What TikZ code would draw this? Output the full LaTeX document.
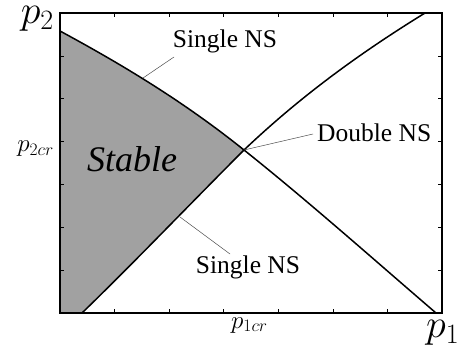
\RequirePackage{fix-cm}
\documentclass[tikz,border=0pt]{standalone}
\usepackage{fontspec}
\setmainfont{Liberation Serif}
\begin{document}
\begin{tikzpicture}[x=1pt,y=-1pt,
  curve/.style={line width=1.5pt, black},
  frame/.style={line width=1.3pt, black},
  tickmark/.style={line width=0.6pt, black},
  leader/.style={line width=0.5pt, black!70},
  lab/.style={inner sep=0pt, font=\fontsize{25.5}{25.5}\selectfont},
  axlab/.style={inner sep=0pt, font=\fontsize{40}{40}\selectfont},
  crlab/.style={inner sep=0pt, font=\fontsize{25}{25}\selectfont}]
\useasboundingbox (0,0) rectangle (462,352);
% key points
\coordinate (A0) at (60,31);
\coordinate (X) at (244,150);
\coordinate (A1) at (436,313);
\coordinate (B0) at (82,313);
\coordinate (B1) at (425,13);
\coordinate (BL) at (60,313);
% stable region
\fill[black!37] (A0) .. controls (121,64) and (183,101) .. (X)
  .. controls (190,204) and (136,260.6) .. (B0) -- (BL) -- cycle;
% curves
\draw[curve] (A0) .. controls (121,64) and (183,101) .. (X)
  .. controls (308,201) and (372,258) .. (A1);
\draw[curve] (B0) .. controls (136,260.6) and (190,204) .. (X)
  .. controls (304,93) and (365,50) .. (B1);
% frame and ticks
\draw[frame] (60,13) rectangle (442,313);
\foreach \k in {1,...,6}{
  \draw[tickmark] ({60+54.571*\k},313) -- ++(0,-4);
  \draw[tickmark] ({60+54.571*\k},13) -- ++(0,4);
  \draw[tickmark] (60,{313-42.857*\k}) -- ++(4,0);
  \draw[tickmark] (442,{313-42.857*\k}) -- ++(-4,0);
}
% labels
\node[lab, anchor=base] (s1) at (225,48) {Single NS};
\node[lab, anchor=base west] (d1) at (317,142) {Double NS};
\node[lab, anchor=base] (s2) at (248,273) {Single NS};
\node[inner sep=0pt, anchor=base west, font=\fontsize{36}{36}\selectfont\itshape] (st) at (87,172) {Stable};
\node[axlab, anchor=base east] (p2) at (54,23.5) {$p_2$};
\node[axlab, anchor=base west] (p1) at (426,337) {$p_1$};
\node[crlab, anchor=base east] (p2cr) at (54,151.5) {$p_{2cr}$};
\node[crlab, anchor=base west] (p1cr) at (231,328) {$p_{1cr}$};
% leaders
\coordinate (cA) at (143,78);
\coordinate (cB) at (180,217);
\coordinate (e1) at (174,57);
\coordinate (e2) at (313,134);
\coordinate (e3) at (230,254);
\draw[leader] (cA) -- (e1);
\draw[leader] (X) -- (e2);
\draw[leader] (cB) -- (e3);
\end{tikzpicture}
\end{document}
